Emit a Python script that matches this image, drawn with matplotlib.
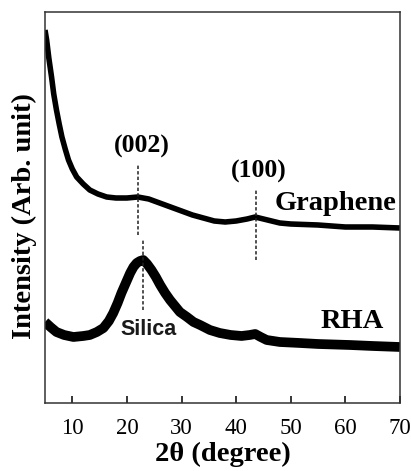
import matplotlib
matplotlib.use("Agg")
import matplotlib.pyplot as plt

plt.rcParams['font.family'] = ['Liberation Serif', 'DejaVu Serif']

# Graphene pattern (2theta, intensity in arb. units)
graphene_2theta = [5.0, 5.3, 5.7, 6.2, 6.6, 7.1, 7.6, 8.1, 8.7, 9.3, 10.0, 10.8, 12.0, 13.2,
                   14.7, 16.3, 18.0, 20.0, 22.0, 24.0, 26.0, 28.0, 30.0, 32.0, 34.0, 36.0,
                   38.0, 40.0, 42.0, 43.5, 45.0, 46.5, 48.0, 50.0, 55.0, 60.0, 65.0, 70.0]
graphene_int = [373, 363, 345, 326, 309, 293, 279, 266, 254, 243, 234, 226, 219, 213,
                209, 206, 205, 205, 206, 204, 200, 196, 192, 188, 185, 182,
                181, 182, 184, 186, 184, 182, 180, 179, 178, 176, 176, 175]

# Rice husk ash pattern
rha_2theta = [5.0, 6.0, 7.1, 8.5, 10.2, 12.0, 13.2, 14.5, 15.7, 16.7, 17.5, 18.3, 19.0, 19.8,
              20.6, 21.2, 21.8, 22.4, 23.0, 23.7, 24.5, 25.3, 26.1, 27.0, 27.9, 28.8, 29.7,
              31.0, 32.2, 33.4, 35.2, 37.0, 39.0, 41.0, 42.5, 43.5, 44.5, 45.6, 48.0, 51.7,
              55.0, 60.8, 65.0, 70.0]
rha_int = [81, 76, 71, 68, 66, 67, 68, 71, 75, 82, 90, 100, 110, 120,
           130, 136, 140, 142, 143, 139, 133, 126, 118, 110, 103, 97, 91,
           86, 81, 78, 73, 70, 68, 67, 68, 69, 66, 63, 61, 60,
           59, 58, 57, 56]

# peak markers: label, position, dashed line span
peak_labels = ["(002)", "(100)", "Silica"]
peak_pos = [22.0, 43.6, 23.0]
peak_span = [(168, 238), (143, 213), (93, 163)]

fig = plt.figure(figsize=(4.11, 4.71), dpi=100)
ax = fig.add_axes([0.1095, 0.1444, 0.8635, 0.8301])

ax.plot(graphene_2theta, graphene_int, color="black", lw=4.0, solid_capstyle="butt")
ax.plot(rha_2theta, rha_int, color="black", lw=7.0, solid_capstyle="butt")

for x, (y0, y1) in zip(peak_pos, peak_span):
    ax.plot([x, x], [y0, y1], color="#222222", lw=1.1, dashes=(2.2, 1.4))

ax.text(22.7, 250, peak_labels[0], ha="center", va="baseline", fontsize=18.5, fontweight="bold")
ax.text(44.2, 225, peak_labels[1], ha="center", va="baseline", fontsize=18.5, fontweight="bold")
ax.text(23.9, 68, peak_labels[2], ha="center", va="baseline", fontsize=15.5, fontweight="bold",
        family=["Liberation Sans", "DejaVu Sans"], color="#1a1a1a")
ax.text(58.2, 193, "Graphene", ha="center", va="baseline", fontsize=20.5, fontweight="bold")
ax.text(61.2, 75, "RHA", ha="center", va="baseline", fontsize=20.5, fontweight="bold")

ax.set_xlim(5, 70)
ax.set_ylim(0, 391)
ax.set_xticks([10, 20, 30, 40, 50, 60, 70])
ax.set_yticks([])
ax.tick_params(axis="x", direction="in", length=5, width=1.1, labelsize=16.5, pad=11,
               labelfontfamily="Liberation Serif")
for s in ax.spines.values():
    s.set_linewidth(1.1)
    s.set_color("#333333")

ax.set_xlabel("2θ (degree)", fontsize=20.5, fontweight="bold", labelpad=2)
ax.set_ylabel("Intensity (Arb. unit)", fontsize=20.5, fontweight="bold", labelpad=6)
ax.yaxis.label.set_y(0.478)

fig.savefig("out.png", dpi=100)
